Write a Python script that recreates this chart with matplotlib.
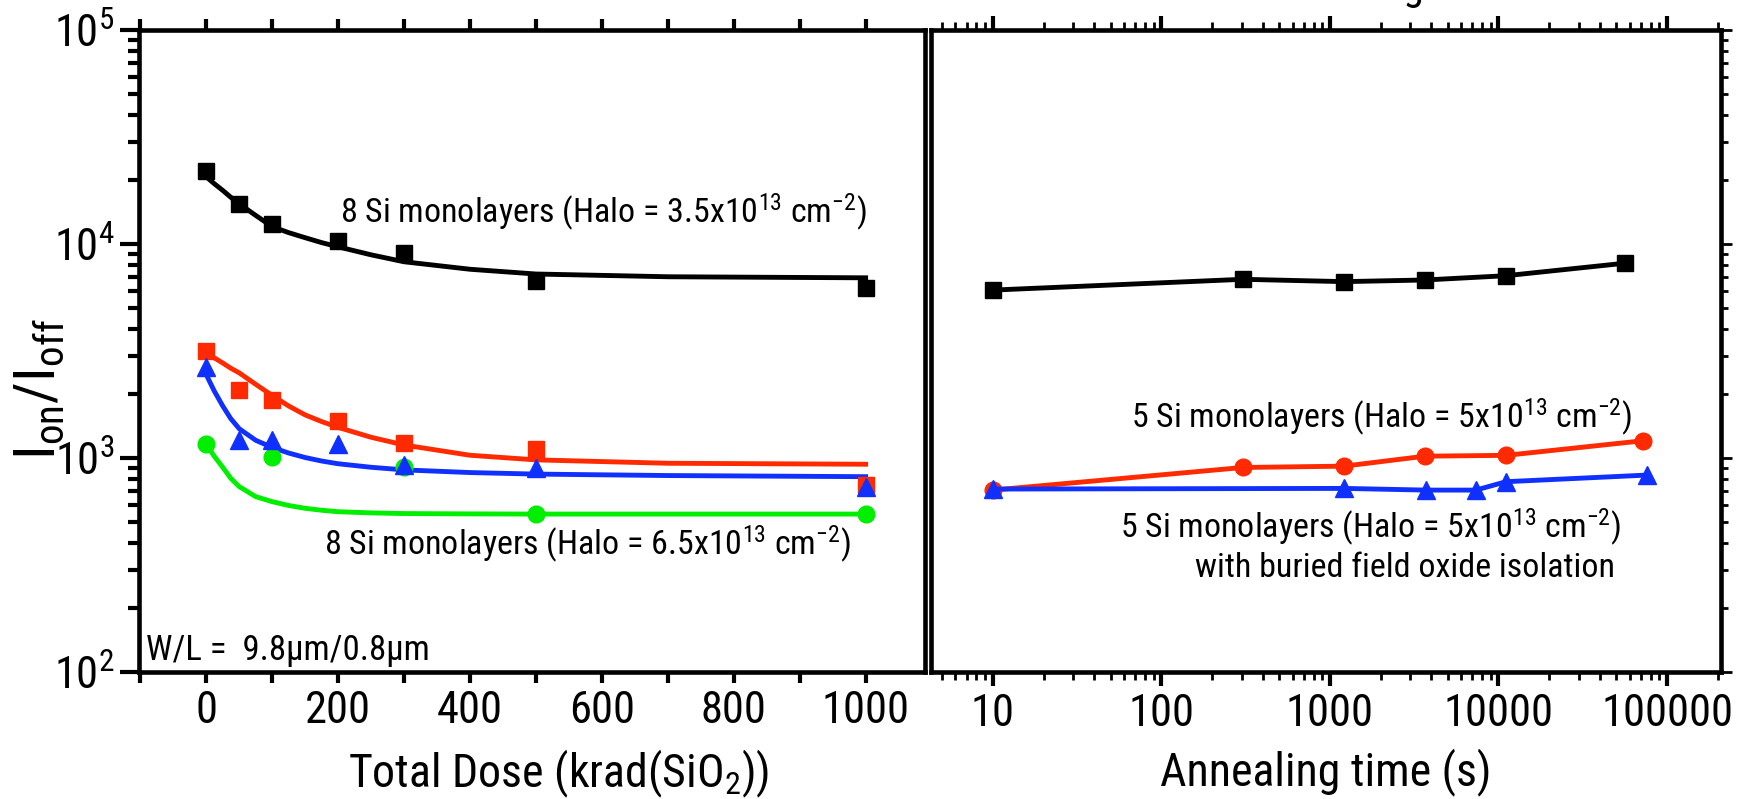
import matplotlib
matplotlib.use("Agg")
import matplotlib.pyplot as plt
import matplotlib.ticker as mticker

plt.rcParams["font.family"] = ["Roboto Condensed", "Roboto", "DejaVu Sans"]
plt.rcParams["mathtext.default"] = "regular"

# total dose data (krad(SiO2))
dose = [0, 50, 100, 200, 300, 500, 1000]
black_dose = [21900, 15400, 12400, 10300, 9100, 6740, 6220]
red_dose = [3170, 2080, 1866, 1490, 1180, 1100, 750]
blue_dose = [2670, 1210, 1210, 1160, 927, 898, 730]
green_x = [0, 100, 300, 500, 1000]
green_dose = [1160, 1014, 910, 547, 547]

# fitted trends for the dose curves
fit_x = [0, 12, 25, 37, 50, 75, 100, 125, 150, 175, 200, 250, 300, 400, 500, 700, 1000]
black_fit = [20600, 19150, 17800, 16550, 15400, 13600, 12050, 11300, 10700, 10150, 9700,
             8900, 8260, 7620, 7240, 7030, 6950]
red_fit = [3100, 2940, 2780, 2630, 2500, 2210, 1960, 1750, 1590, 1480, 1390, 1250, 1150,
           1030, 980, 945, 935]
blue_fit = [2450, 2060, 1750, 1530, 1370, 1210, 1120, 1055, 1005, 968, 940, 905, 880,
            855, 841, 828, 818]
green_fit = [1160, 1020, 905, 805, 735, 660, 625, 600, 582, 570, 561, 554, 550, 548, 547,
             547, 547]

# annealing data (s)
t_black = [10, 304, 1213, 3670, 11100, 56000]
black_anneal = [6090, 6840, 6670, 6790, 7110, 8130]
t_red = [10, 304, 1213, 3670, 11100, 72000]
red_anneal = [708, 903, 916, 1020, 1029, 1204]
t_blue = [10, 1213, 3720, 7340, 11100, 75600]
blue_anneal = [716, 721, 708, 708, 775, 832]

RED = "#ff2a00"
BLUE = "#1030ff"
GREEN = "#00ee00"

W, H = 1764, 799
fig = plt.figure(figsize=(W / 100, H / 100), dpi=100)
ax1 = fig.add_axes([139 / W, 1 - 672 / H, 786 / W, 642 / H])
ax2 = fig.add_axes([931 / W, 1 - 672 / H, 790 / W, 642 / H])

lw = 3.5
ms = 11
# left panel: dose
ax1.plot(fit_x, black_fit, color="black", lw=lw)
ax1.plot(fit_x, red_fit, color=RED, lw=lw)
ax1.plot(fit_x, green_fit, color=GREEN, lw=lw)
ax1.plot(fit_x, blue_fit, color=BLUE, lw=lw)
ax1.plot(dose, black_dose, "s", color="black", ms=ms)
ax1.plot(green_x, green_dose, "o", color=GREEN, ms=ms + 1)
ax1.plot(dose, red_dose, "s", color=RED, ms=ms)
ax1.plot(dose, blue_dose, "^", color=BLUE, ms=ms + 2)

# right panel: annealing
ax2.plot(t_black, black_anneal, "-s", color="black", lw=lw, ms=ms)
ax2.plot(t_red, red_anneal, "-o", color=RED, lw=lw, ms=ms + 1)
ax2.plot(t_blue, blue_anneal, "-^", color=BLUE, lw=lw, ms=ms + 2)

for ax in (ax1, ax2):
    ax.set_yscale("log")
    ax.set_ylim(100, 1e5)
    for s in ax.spines.values():
        s.set_linewidth(3.3)

ax1.set_xlim(-102, 1090)
ax1.xaxis.set_major_locator(mticker.MultipleLocator(200))
ax1.xaxis.set_minor_locator(mticker.MultipleLocator(100))
ax1.yaxis.set_major_formatter(mticker.LogFormatterMathtext())
ax1.tick_params(axis="x", which="both", direction="out", length=8, width=3, labelsize=32,
                pad=5, top=True, labeltop=False)
ax1.tick_params(axis="y", which="major", direction="out", length=14, width=3, labelsize=32)
ax1.tick_params(axis="y", which="minor", direction="out", length=8, width=3)

ax2.set_xscale("log")
ax2.set_xlim(4.3, 2.09e5)
ax2.set_xticks([10, 100, 1000, 10000, 100000])
ax2.set_xticklabels(["10", "100", "1000", "10000", "100000"])
ax2.tick_params(axis="x", which="major", direction="out", length=10, width=3, labelsize=32,
                pad=5, top=True)
ax2.tick_params(axis="x", which="minor", direction="out", length=6, width=2, top=True)
ax2.tick_params(axis="y", which="both", left=False, labelleft=False, right=True,
                direction="out", width=2)
ax2.tick_params(axis="y", which="major", length=8)
ax2.tick_params(axis="y", which="minor", length=5)

ax1.set_xlabel("Total Dose (krad(SiO$_2$))", fontsize=33)
ax1.xaxis.set_label_coords(0.534, -0.118)
ax2.set_xlabel("Annealing time (s)", fontsize=33)
ax2.xaxis.set_label_coords(0.5, -0.118)
ax1.set_ylabel("I$_{on}$/I$_{off}$", fontsize=42)
ax1.yaxis.set_label_coords(-0.092, 0.44)

tsize = 24.5
ax1.text(203, 12530, "8 Si monolayers (Halo = 3.5x10$^{13}$ cm$^{-2}$)", fontsize=tsize,
         va="baseline")
ax1.text(179, 352, "8 Si monolayers (Halo = 6.5x10$^{13}$ cm$^{-2}$)", fontsize=tsize,
         va="baseline")
ax1.text(-92, 114, "W/L =  9.8\u00b5m/0.8\u00b5m", fontsize=25, va="baseline")
ax2.text(66, 1380, "5 Si monolayers (Halo = 5x10$^{13}$ cm$^{-2}$)", fontsize=tsize,
         va="baseline")
ax2.text(57, 423, "5 Si monolayers (Halo = 5x10$^{13}$ cm$^{-2}$)", fontsize=tsize,
         va="baseline")
ax2.text(158, 278, "with buried field oxide isolation", fontsize=tsize, va="baseline")

# heading above the panels, mostly outside the canvas
fig.text(1424 / W, 1 + 1 / H, "Annealing", fontsize=30, ha="right", va="baseline")

fig.savefig("out.png", dpi=100, facecolor="white")
